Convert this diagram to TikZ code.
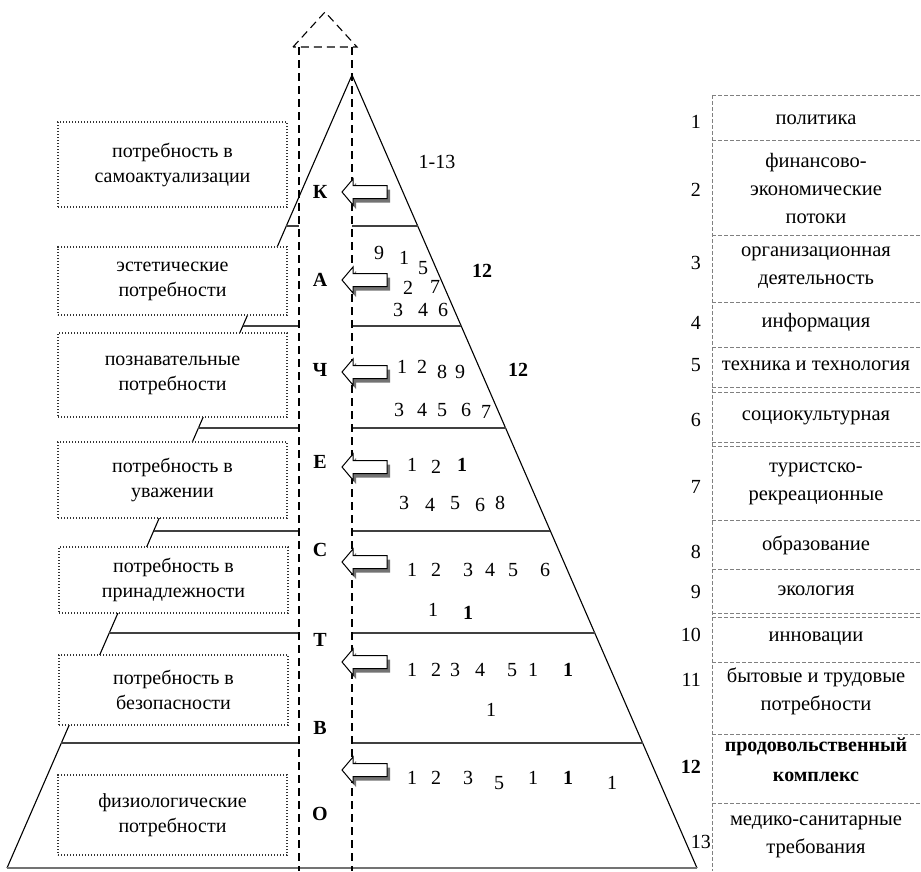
\documentclass[tikz,border=0pt]{standalone}
\usepackage{fontspec}
\setmainfont{Liberation Serif}
\begin{document}
\begin{tikzpicture}[x=1pt,y=-1pt,
  pyr/.style={line width=1.1pt, black},
  layer/.style={line width=1.8pt, black!75},
  vdash/.style={line width=1.1pt, dash pattern=on 8pt off 5pt},
  lbox/.style={draw=black!80, line width=1.4pt, dash pattern=on 1.4pt off 1.6pt, fill=white, minimum width=229pt, align=center, inner sep=0pt, font=\fontsize{20}{25}\selectfont},
  rline/.style={black!50, line width=0.8pt, dash pattern=on 4pt off 2pt},
  rtext/.style={align=center, inner sep=0pt, font=\fontsize{20.5}{28}\selectfont},
  num/.style={inner sep=0pt, font=\fontsize{20}{20}\selectfont},
  bnum/.style={inner sep=0pt, font=\fontsize{20}{20}\selectfont\bfseries},
  lett/.style={inner sep=0pt, font=\fontsize{20}{20}\selectfont\bfseries},
  larrow/.pic={
    \fill[black!55] (3,4) -- (14,-9) -- (14,-2.5) -- (48,-2.5) -- (48,10.5) -- (14,10.5) -- (14,17) -- cycle;
    \filldraw[fill=white, draw=black, line width=1pt] (0,0) -- (11,-13) -- (11,-6.5) -- (45,-6.5) -- (45,6.5) -- (11,6.5) -- (11,13) -- cycle;
  }
]
\useasboundingbox (0,0) rectangle (921,871);

% pyramid
\coordinate (apex) at (352,75);
\coordinate (bl) at (7,868);
\coordinate (br) at (697,868);
\draw[pyr] (bl) -- (apex) -- (br);
\draw[line width=1.2pt, black!55] (bl) -- (br);

% layer lines (right part)
\draw[layer] (352,226) -- (417.7,226);
\draw[layer] (352,326) -- (461.2,326);
\draw[layer] (352,428) -- (505.6,428);
\draw[layer] (352,531) -- (550.4,531);
\draw[layer] (352,633) -- (594.8,633);
\draw[layer] (352,743) -- (642.6,743);
% layer lines (left part)
\draw[layer] (286.3,226) -- (299,226);
\draw[layer] (242.8,326) -- (299,326);
\draw[layer] (198.4,428) -- (299,428);
\draw[layer] (153.6,531) -- (299,531);
\draw[layer] (109.2,633) -- (299,633);
\draw[layer] (61.4,743) -- (299,743);

% left boxes
\node[lbox, minimum height=85pt] (b1) at (172.5,164.5) {потребность в\\самоактуализации};
\node[lbox, minimum height=68pt] (b2) at (172.5,281) {эстетические\\потребности};
\node[lbox, minimum height=84pt] (b3) at (172.5,375) {познавательные\\потребности};
\node[lbox, minimum height=76pt] (b4) at (172.5,480) {потребность в\\уважении};
\node[lbox, minimum height=66pt] (b5) at (173.5,580) {потребность в\\принадлежности};
\node[lbox, minimum height=70pt] (b6) at (173.5,690) {потребность в\\безопасности};
\node[lbox, minimum height=80pt] (b7) at (172.5,815) {физиологические\\потребности};

% dashed column with arrow head
\draw[vdash] (293,47) -- (325,12) -- (357,47) -- cycle;
\draw[vdash] (299,47) -- (299,871);
\draw[vdash] (352,47) -- (352,871);

% letters
\node[lett] (lK) at (320,192) {К};
\node[lett] (lA) at (320,280) {А};
\node[lett] (lCh) at (320,370) {Ч};
\node[lett] (lE) at (320,462) {Е};
\node[lett] (lS) at (320,550) {С};
\node[lett] (lT) at (320,640) {Т};
\node[lett] (lV) at (320,728) {В};
\node[lett] (lO) at (320,814) {О};

% arrows
\path (342,192) pic {larrow};
\path (342,280) pic {larrow};
\path (342,372) pic {larrow};
\path (342,467) pic {larrow};
\path (342,562) pic {larrow};
\path (342,662) pic {larrow};
\path (342,770) pic {larrow};

% numbers: layer К
\node[num] (k1) at (437,162) {1-13};
% layer А
\node[num] (a1) at (379,253) {9};
\node[num] (a2) at (404,258) {1};
\node[num] (a3) at (423,268) {5};
\node[bnum] (a4) at (482,271) {12};
\node[num] (a5) at (408,288) {2};
\node[num] (a6) at (435,287) {7};
\node[num] (a7) at (398,310) {3};
\node[num] (a8) at (423,310) {4};
\node[num] (a9) at (443,310) {6};
% layer Ч
\node[num] (c1) at (402,367) {1};
\node[num] (c2) at (422,367) {2};
\node[num] (c3) at (442,372) {8};
\node[num] (c4) at (460,372) {9};
\node[bnum] (c5) at (518,370) {12};
\node[num] (c6) at (399,410) {3};
\node[num] (c7) at (422,410) {4};
\node[num] (c8) at (442,410) {5};
\node[num] (c9) at (466,410) {6};
\node[num] (c10) at (486,412) {7};
% layer Е
\node[num] (e1) at (412,465) {1};
\node[num] (e2) at (436,467) {2};
\node[bnum] (e3) at (462,465) {1};
\node[num] (e4) at (404,503) {3};
\node[num] (e5) at (430,505) {4};
\node[num] (e6) at (455,503) {5};
\node[num] (e7) at (480,505) {6};
\node[num] (e8) at (500,503) {8};
% layer С
\node[num] (s1) at (412,570) {1};
\node[num] (s2) at (436,570) {2};
\node[num] (s3) at (468,570) {3};
\node[num] (s4) at (490,570) {4};
\node[num] (s5) at (513,570) {5};
\node[num] (s6) at (545,570) {6};
\node[num] (s7) at (433,610) {1};
\node[bnum] (s8) at (468,613) {1};
% layer Т
\node[num] (t1) at (412,670) {1};
\node[num] (t2) at (436,670) {2};
\node[num] (t3) at (455,670) {3};
\node[num] (t4) at (480,670) {4};
\node[num] (t5) at (512,670) {5};
\node[num] (t6) at (533,670) {1};
\node[bnum] (t7) at (568,670) {1};
\node[num] (t8) at (491,710) {1};
% layer О
\node[num] (o1) at (412,778) {1};
\node[num] (o2) at (436,778) {2};
\node[num] (o3) at (468,778) {3};
\node[num] (o4) at (499,783) {5};
\node[num] (o5) at (533,778) {1};
\node[bnum] (o6) at (568,778) {1};
\node[num] (o7) at (612,783) {1};

% right list
\draw[rline] (712,95) -- (712,871);
\foreach \yy in {95,140,235,302,347,387,392,442,446,520,569,613,617,662,734,803}
  \draw[rline] (712,\yy) -- (921,\yy);

\node[rtext] (r1) at (816,120) {политика};
\node[rtext] (r2) at (816,188) {финансово-\\экономические\\потоки};
\node[rtext] (r3) at (816,268) {организационная\\деятельность};
\node[rtext] (r4) at (816,323) {информация};
\node[rtext] (r5) at (816,366) {техника и технология};
\node[rtext] (r6) at (816,418) {социокультурная};
\node[rtext] (r7) at (816,484) {туристско-\\рекреационные};
\node[rtext] (r8) at (816,545) {образование};
\node[rtext] (r9) at (816,591) {экология};
\node[rtext] (r10) at (816,639) {инновации};
\node[rtext] (r11) at (816,691) {бытовые и трудовые\\потребности};
\node[rtext, font=\fontsize{20}{30}\selectfont\bfseries] (r12) at (816,760) {продовольственный\\комплекс};
\node[rtext] (r13) at (816,837) {медико-санитарные\\требования};

\node[num, anchor=east] (m1) at (701,122) {1};
\node[num, anchor=east] (m2) at (701,190) {2};
\node[num, anchor=east] (m3) at (701,263) {3};
\node[num, anchor=east] (m4) at (701,323) {4};
\node[num, anchor=east] (m5) at (701,365) {5};
\node[num, anchor=east] (m6) at (701,420) {6};
\node[num, anchor=east] (m7) at (701,487) {7};
\node[num, anchor=east] (m8) at (701,552) {8};
\node[num, anchor=east] (m9) at (701,592) {9};
\node[num, anchor=east] (m10) at (701,635) {10};
\node[num, anchor=east] (m11) at (701,680) {11};
\node[bnum, anchor=east] (m12) at (701,767) {12};
\node[num, anchor=east] (m13) at (711,842) {13};
\end{tikzpicture}
\end{document}
